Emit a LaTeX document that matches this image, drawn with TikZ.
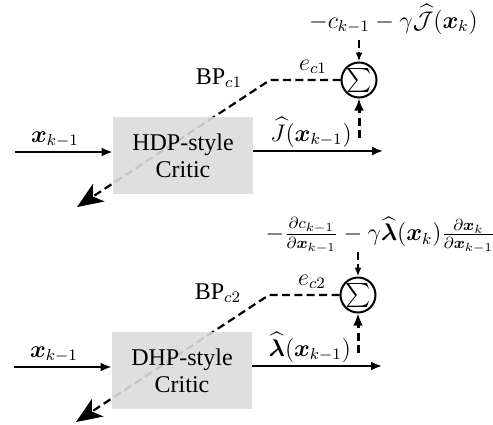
\documentclass[tikz,border=0pt]{standalone}
\usepackage{amsmath,bm}
\usepackage{fontspec}
\setmainfont{Liberation Serif}
\usetikzlibrary{arrows.meta}
\begin{document}
\begin{tikzpicture}[x=0.5pt,y=-0.5pt,
 font=\fontsize{12}{13.5}\selectfont,
 sig/.style={-{Latex[length=5.5pt,width=4.5pt]}, line width=1pt},
 fb/.style={dash pattern=on 4pt off 2.2pt, line width=1.1pt},
 bigtip/.style={-{Stealth[length=13pt,width=10.5pt,inset=3.5pt]}},
 uptip/.style={line width=1.5pt, -{Latex[length=6pt,width=5pt]}},
 dntip/.style={-{Latex[length=4.5pt,width=3.5pt]}},
 critic/.style={fill=black!14, fill opacity=0.9, text opacity=1, minimum width=70pt, minimum height=38.5pt, align=center, inner sep=0pt},
 sumnode/.style={circle, draw, line width=1pt, minimum size=17.5pt, inner sep=0pt},
 lab/.style={inner sep=0pt, anchor=base}]
\useasboundingbox (0,0) rectangle (493,424);
% ---------- top: HDP ----------
\coordinate (bpend1) at (77,207);
\coordinate (corner1) at (270,80);
\node[sumnode] (sum1) at (359,80) {$\sum$};
\draw[fb, bigtip] (sum1.west) -- (corner1) -- (bpend1);
\node[critic] (box1) at (183,155.5) {HDP-style\\Critic};
\coordinate (in1) at (15,152);
\draw[sig] (in1) -- (in1 -| box1.west);
\node[lab] (lx1) at (55,142) {$\bm{x}_{k-1}$};
\coordinate (out1) at (383,151);
\draw[sig] (out1 -| box1.east) -- (out1);
\node[lab] (lJ1) at (311,141) {$\widehat{J}(\bm{x}_{k-1})$};
\coordinate (up1) at (359,138);
\draw[fb, uptip] (up1) -- (sum1.south);
\coordinate (dn1) at (359,40);
\draw[fb, dntip] (dn1) -- (sum1.north);
\node[lab] (t1) at (393.5,28) {$-c_{k-1}-\gamma\widehat{\mathcal{J}}(\bm{x}_k)$};
\node[lab] (bp1) at (219,84) {BP$_{c1}$};
\node[lab] (e1) at (313,70) {$e_{c1}$};
% ---------- bottom: DHP ----------
\begin{scope}[shift={(-1,215)}]
\coordinate (bpend2) at (77,207);
\coordinate (corner2) at (270,80);
\node[sumnode] (sum2) at (359,80) {$\sum$};
\draw[fb, bigtip] (sum2.west) -- (corner2) -- (bpend2);
\node[critic] (box2) at (183,155.5) {DHP-style\\Critic};
\coordinate (in2) at (15,152);
\draw[sig] (in2) -- (in2 -| box2.west);
\node[lab] (lx2) at (55,142) {$\bm{x}_{k-1}$};
\coordinate (out2) at (383,151);
\draw[sig] (out2 -| box2.east) -- (out2);
\node[lab] (lL2) at (311,141) {$\widehat{\bm{\lambda}}(\bm{x}_{k-1})$};
\coordinate (up2) at (359,138);
\draw[fb, uptip] (up2) -- (sum2.south);
\coordinate (dn2) at (359,37);
\draw[fb, dntip] (dn2) -- (sum2.north);
\node[lab] (t2) at (381.5,25.5) {$-\frac{\partial c_{k-1}}{\partial \bm{x}_{k-1}}-\gamma\widehat{\bm{\lambda}}(\bm{x}_k)\frac{\partial \bm{x}_k}{\partial \bm{x}_{k-1}}$};
\node[lab] (bp2) at (219,84) {BP$_{c2}$};
\node[lab] (e2) at (313,70) {$e_{c2}$};
\end{scope}
\end{tikzpicture}
\end{document}
